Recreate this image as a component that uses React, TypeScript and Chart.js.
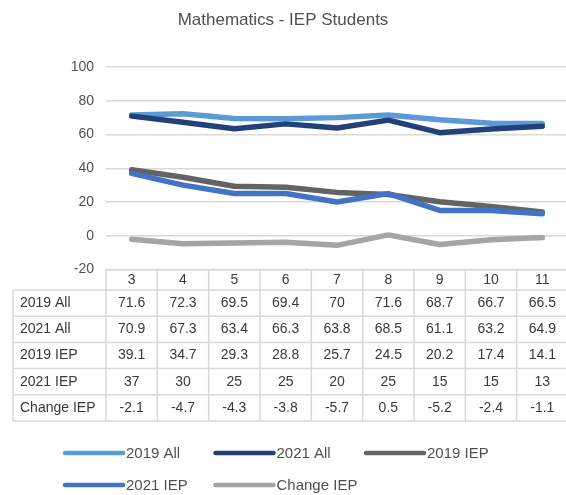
import React, { useEffect, useRef } from "react";
import { Chart, registerables } from "chart.js";

Chart.register(...registerables);

const categories = ["3", "4", "5", "6", "7", "8", "9", "10", "11"];
const all2019 = [71.6, 72.3, 69.5, 69.4, 70, 71.6, 68.7, 66.7, 66.5];
const all2021 = [70.9, 67.3, 63.4, 66.3, 63.8, 68.5, 61.1, 63.2, 64.9];
const iep2019 = [39.1, 34.7, 29.3, 28.8, 25.7, 24.5, 20.2, 17.4, 14.1];
const iep2021 = [37, 30, 25, 25, 20, 25, 15, 15, 13];
const changeIep = [-2.1, -4.7, -4.3, -3.8, -5.7, 0.5, -5.2, -2.4, -1.1];

const seriesNames = ["2019 All", "2021 All", "2019 IEP", "2021 IEP", "Change IEP"];
const seriesValues = [all2019, all2021, iep2019, iep2021, changeIep];
const seriesColors = ["#5B9BD5", "#22407A", "#636363", "#4472C4", "#A5A5A5"];

const titleText = "Mathematics - IEP Students";
const FONT = "'Liberation Sans', Arial, sans-serif";

const W = 570;
const H = 495;

const tablePlugin = {
  id: "tableAndLegend",
  afterDraw(chart: any) {
    const ctx = chart.ctx;
    const area = chart.chartArea;
    const xs = chart.scales.x;
    const n = categories.length;
    const colW = (area.right - area.left) / n;
    const top = area.bottom;
    const headerBottom = top + 20.5;
    const rowH = 26.2;
    const tableBottom = headerBottom + rowH * seriesNames.length;
    const labelLeft = 13;

    ctx.save();
    // Title
    ctx.fillStyle = "#505050";
    ctx.font = `17px ${FONT}`;
    ctx.textAlign = "center";
    ctx.textBaseline = "middle";
    ctx.fillText(titleText, 283, 20);

    // Table borders
    ctx.strokeStyle = "#D9D9D9";
    ctx.lineWidth = 1.5;
    ctx.beginPath();
    ctx.moveTo(area.left, top);
    ctx.lineTo(area.right, top);
    for (let r = 0; r <= seriesNames.length; r++) {
      const y = headerBottom + r * rowH;
      ctx.moveTo(labelLeft, y);
      ctx.lineTo(area.right, y);
    }
    ctx.moveTo(labelLeft, headerBottom);
    ctx.lineTo(labelLeft, tableBottom);
    for (let c = 0; c <= n; c++) {
      const x = area.left + c * colW;
      ctx.moveTo(x, top);
      ctx.lineTo(x, tableBottom);
    }
    ctx.stroke();

    // Header
    ctx.fillStyle = "#3A3A3A";
    ctx.font = `14px ${FONT}`;
    ctx.textAlign = "center";
    ctx.textBaseline = "middle";
    categories.forEach((cat, i) => {
      ctx.fillText(cat, xs.getPixelForValue(i), (top + headerBottom) / 2 + 0.5);
    });
    // Rows
    seriesNames.forEach((name, r) => {
      const yc = headerBottom + r * rowH + rowH / 2;
      ctx.textAlign = "left";
      ctx.fillText(name, 20, yc);
      ctx.textAlign = "center";
      seriesValues[r].forEach((v, i) => {
        ctx.fillText(String(v), xs.getPixelForValue(i), yc);
      });
    });

    // Legend
    const legendCols = [63, 213.5, 364];
    const legendRows = [453, 485];
    ctx.font = `15px ${FONT}`;
    ctx.textAlign = "left";
    ctx.lineCap = "round";
    seriesNames.forEach((name, k) => {
      const col = k % 3;
      const row = Math.floor(k / 3);
      const x = legendCols[col];
      const y = legendRows[row];
      ctx.strokeStyle = seriesColors[k];
      ctx.lineWidth = 4.5;
      ctx.beginPath();
      ctx.moveTo(x + 2, y);
      ctx.lineTo(x + 60, y);
      ctx.stroke();
      ctx.fillStyle = "#505050";
      ctx.fillText(name, x + 63, y + 0.5);
    });
    ctx.restore();
  },
};

export default function App() {
  const canvasRef = useRef<HTMLCanvasElement | null>(null);

  useEffect(() => {
    if (!canvasRef.current) return;
    const chart = new Chart(canvasRef.current, {
      type: "line",
      data: {
        labels: categories,
        datasets: seriesNames.map((name, i) => ({
          label: name,
          data: seriesValues[i],
          borderColor: seriesColors[i],
          backgroundColor: seriesColors[i],
          borderWidth: 5.5,
          pointRadius: 0,
          pointHoverRadius: 0,
          tension: 0,
          borderCapStyle: "round" as const,
          borderJoinStyle: "round" as const,
          order: seriesNames.length - 1 - i,
        })),
      },
      options: {
        responsive: false,
        animation: false,
        devicePixelRatio: 1,
        layout: { padding: { top: 67, bottom: H - 269.5, left: 0, right: W - 568 } },
        plugins: {
          legend: { display: false },
          title: { display: false },
          tooltip: { enabled: false },
        },
        scales: {
          x: {
            type: "category",
            display: false,
            offset: true,
          },
          y: {
            min: -20,
            max: 100,
            ticks: {
              stepSize: 20,
              color: "#505050",
              font: { family: FONT, size: 14 },
              padding: 12,
            },
            grid: {
              color: "#D9D9D9",
              lineWidth: 1.5,
              drawTicks: false,
            },
            border: { display: false },
            afterFit: (scale: any) => {
              scale.width = 106;
            },
          },
        },
      },
      plugins: [tablePlugin],
    });
    return () => chart.destroy();
  }, []);

  return (
    <div
      style={{
        position: "fixed",
        left: 0,
        top: 0,
        width: 566,
        height: H,
        overflow: "hidden",
        background: "#ffffff",
      }}
    >
      <canvas ref={canvasRef} width={W} height={H} style={{ width: W, height: H, display: "block" }} />
    </div>
  );
}
